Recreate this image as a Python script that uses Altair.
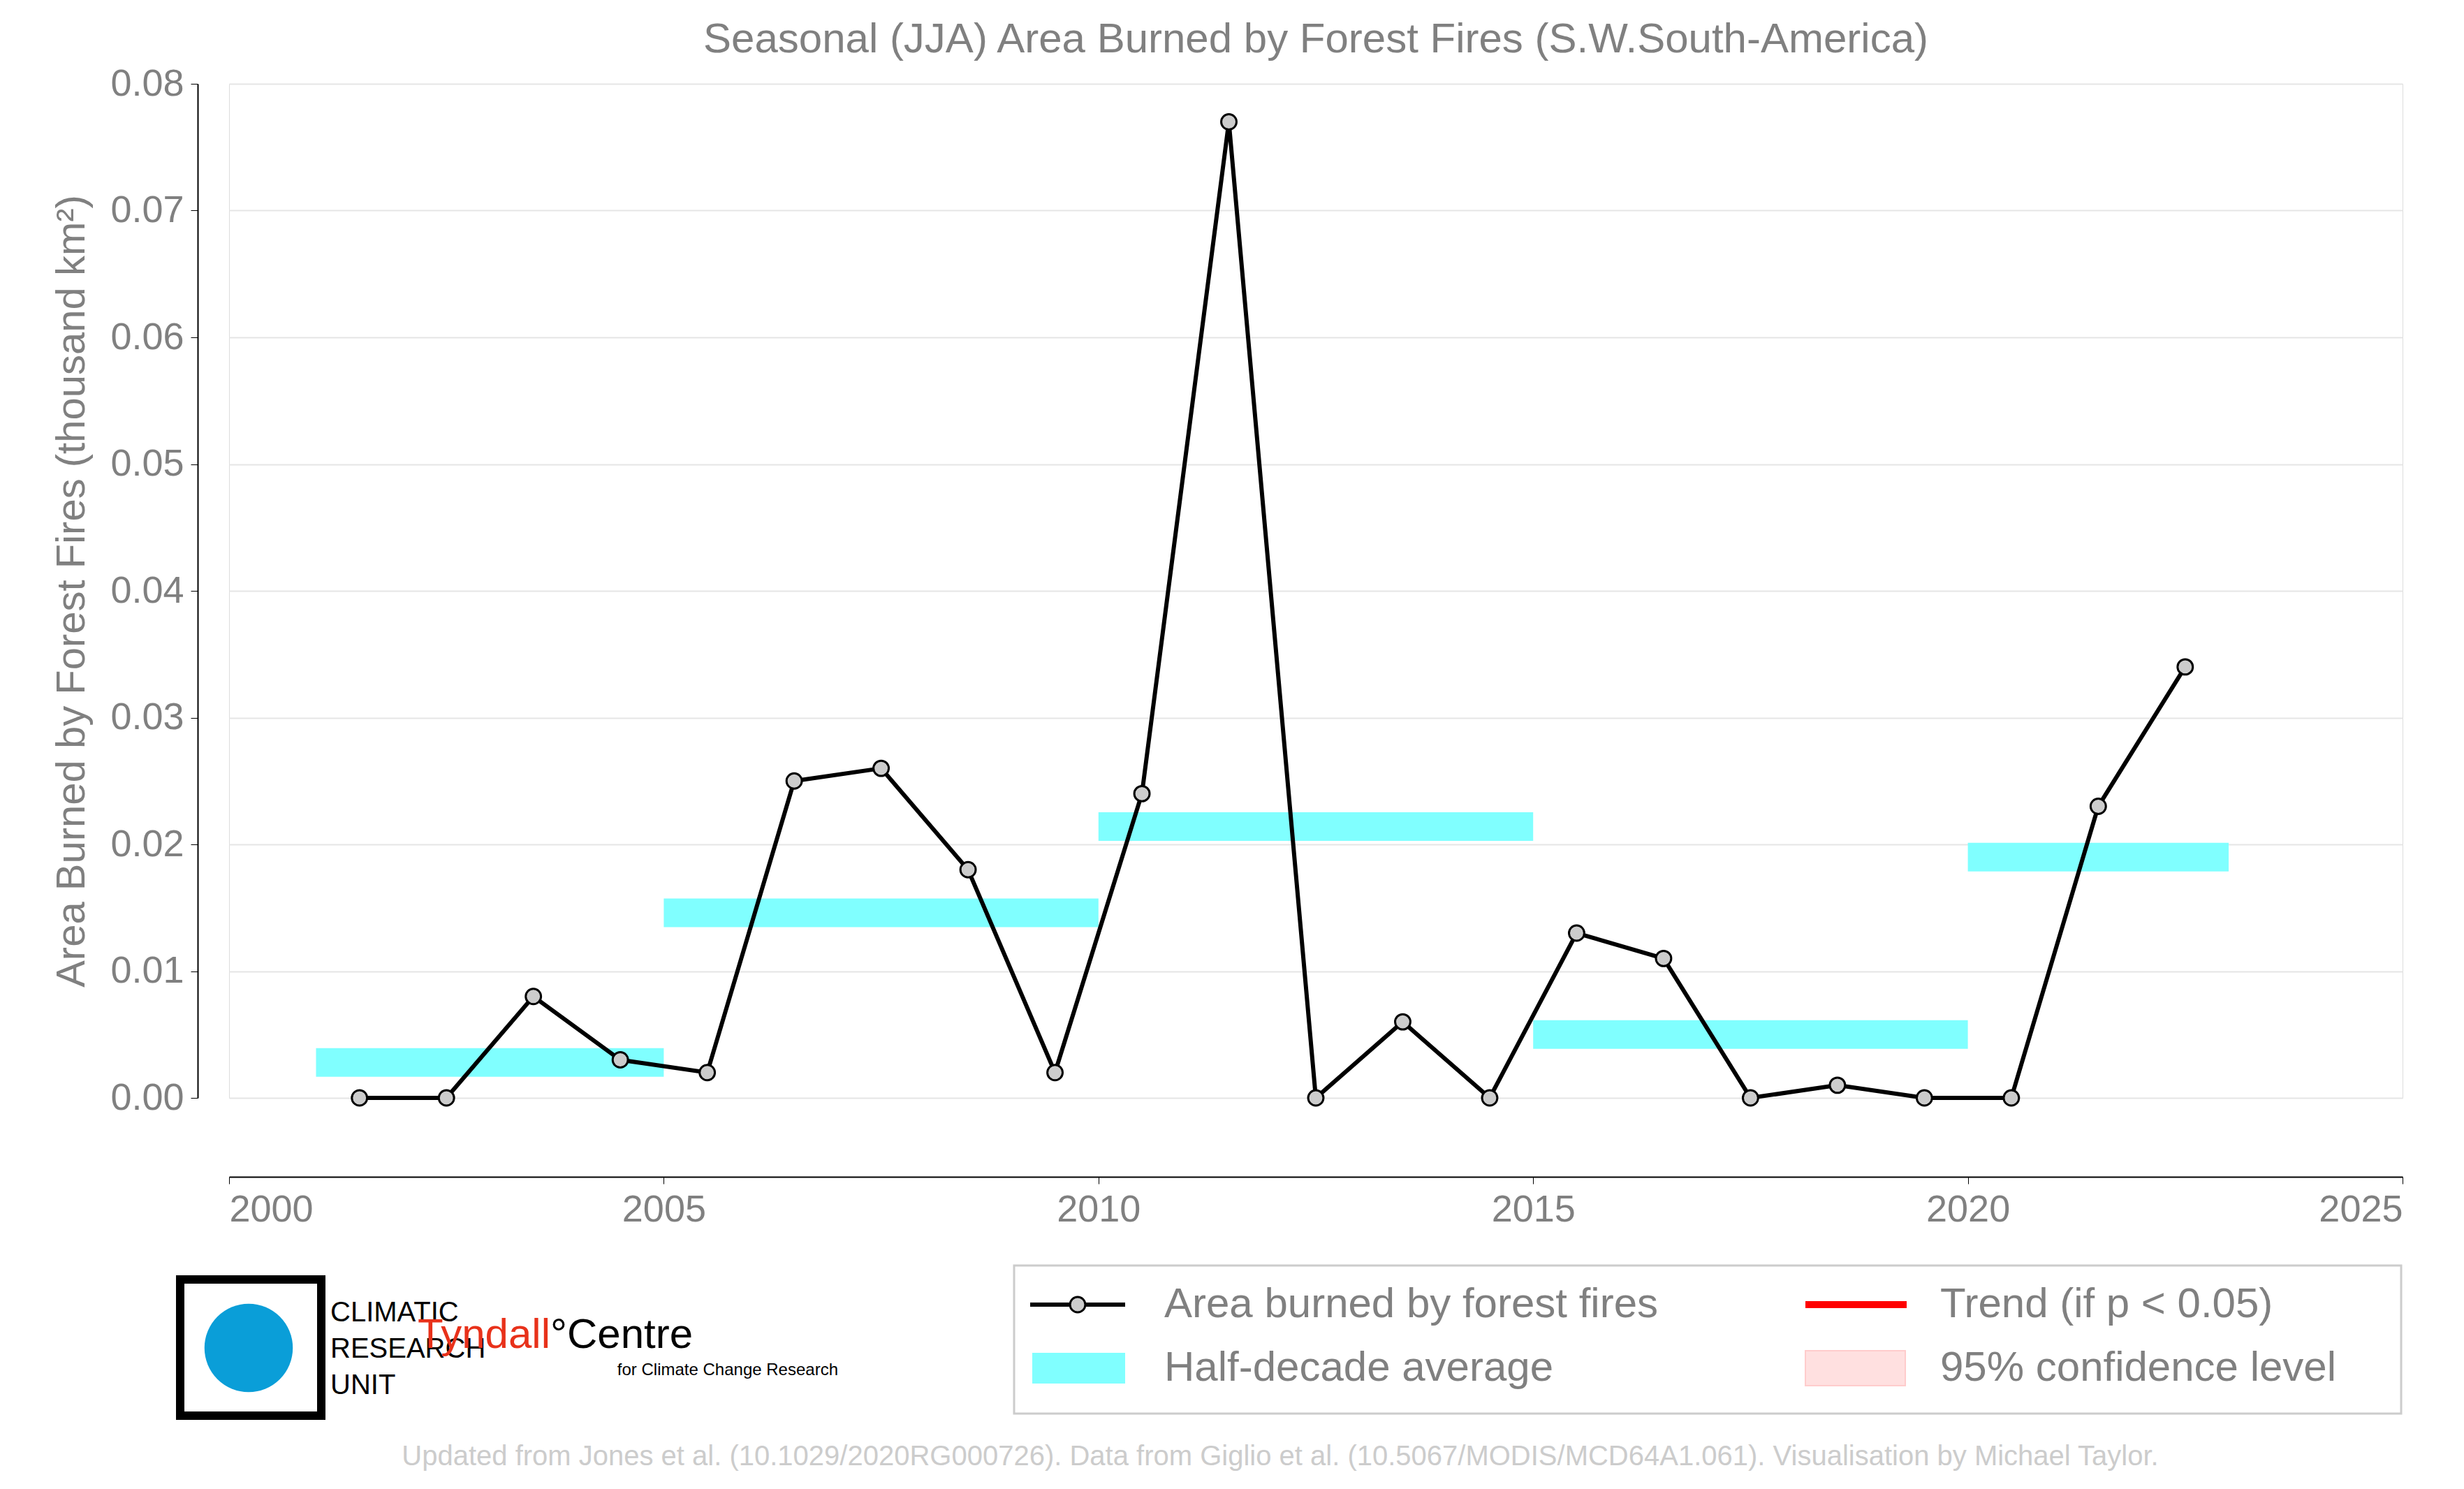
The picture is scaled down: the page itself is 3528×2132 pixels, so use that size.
import altair as alt
import pandas as pd

years = [2001.5, 2002.5, 2003.5, 2004.5, 2005.5, 2006.5, 2007.5, 2008.5, 2009.5, 2010.5, 2011.5,
         2012.5, 2013.5, 2014.5, 2015.5, 2016.5, 2017.5, 2018.5, 2019.5, 2020.5, 2021.5, 2022.5]
burned = [0.0, 0.0, 0.008, 0.003, 0.002, 0.025, 0.026, 0.018, 0.002, 0.024, 0.077,
          0.0, 0.006, 0.0, 0.013, 0.011, 0.0, 0.001, 0.0, 0.0, 0.023, 0.034]

avg_start = [2001, 2005, 2010, 2015, 2020]
avg_end = [2005, 2010, 2015, 2020, 2023]
avg_value = [0.0028, 0.0146, 0.0214, 0.0050, 0.0190]

W, H = 3112, 1452
FONT = "Liberation Sans"
GREY = "#808080"

series = pd.DataFrame({"year": years, "burned": burned})
avgs = pd.DataFrame({"start": avg_start, "end": avg_end, "value": avg_value})
one = pd.DataFrame({"k": [0]})

xs = alt.Scale(domain=[2000, 2025], nice=False)
ys = alt.Scale(domain=[0, 0.08], nice=False)

bars = alt.Chart(avgs).mark_rule(color="#80ffff", strokeWidth=41, strokeCap="butt").encode(
    x=alt.X("start:Q", scale=xs,
            axis=alt.Axis(values=[2000, 2005, 2010, 2015, 2020, 2025], format="d", title=None,
                          offset=113, grid=False, labelFontSize=54, labelColor=GREY,
                          domainColor="black", domainWidth=2, tickColor="black", tickSize=10,
                          labelPadding=10, labelFont=FONT)),
    x2="end:Q",
    y=alt.Y("value:Q", scale=ys,
            axis=alt.Axis(values=[i / 100 for i in range(9)], format=".2f",
                          title="Area Burned by Forest Fires (thousand km²)",
                          titleFontSize=58, titleColor=GREY, titleFont=FONT, titleFontWeight="normal",
                          titlePadding=25, offset=45, grid=True, gridColor="#e5e5e5", gridWidth=2,
                          labelFontSize=54, labelColor=GREY, labelFont=FONT, domainColor="black",
                          domainWidth=2, tickColor="black", tickSize=10, labelPadding=10)),
)

line = alt.Chart(series).mark_line(color="black", strokeWidth=6).encode(
    x=alt.X("year:Q", scale=xs), y=alt.Y("burned:Q", scale=ys))
pts = alt.Chart(series).mark_point(filled=True, fill="#cccccc", stroke="black", strokeWidth=3,
                                   size=480, opacity=1).encode(
    x=alt.X("year:Q", scale=xs), y=alt.Y("burned:Q", scale=ys))


def txt(s, x, y, size, color=GREY, align="left", baseline="middle", weight="normal"):
    return alt.Chart(one).mark_text(text=s, fontSize=size, color=color, align=align,
                                    baseline=baseline, font=FONT, fontWeight=weight).encode(
        x=alt.value(x), y=alt.value(y))


def box(x, x2, y, y2, fill, stroke=None, sw=0, op=1):
    kw = dict(fill=fill, opacity=op)
    if stroke:
        kw.update(stroke=stroke, strokeWidth=sw)
    return alt.Chart(one).mark_rect(**kw).encode(
        x=alt.value(x), x2=alt.value(x2), y=alt.value(y), y2=alt.value(y2))


title = txt("Seasonal (JJA) Area Burned by Forest Fires (S.W.South-America)", W / 2, -63, 60, align="center")
footer = txt("Updated from Jones et al. (10.1029/2020RG000726). Data from Giglio et al. "
             "(10.5067/MODIS/MCD64A1.061). Visualisation by Michael Taylor.",
             1505, 1966, 40, color="#cccccc", align="center")

legend = [
    box(1124, 3110, 1692, 1904, "white", "#cccccc", 3),
    alt.Chart(one).mark_rule(color="black", strokeWidth=6).encode(
        x=alt.value(1147), x2=alt.value(1283), y=alt.value(1748)),
    alt.Chart(one).mark_point(filled=True, fill="#cccccc", stroke="black", strokeWidth=3, size=480,
                              opacity=1).encode(x=alt.value(1215), y=alt.value(1748)),
    txt("Area burned by forest fires", 1339, 1748, 60),
    box(1150, 1283, 1817, 1861, "#80ffff"),
    txt("Half-decade average", 1339, 1839, 60),
    alt.Chart(one).mark_rule(color="red", strokeWidth=10).encode(
        x=alt.value(2257), x2=alt.value(2402), y=alt.value(1748)),
    txt("Trend (if p < 0.05)", 2450, 1748, 60),
    box(2257, 2400, 1814, 1864, "#ffe0e0", "#ffcccc", 2),
    txt("95% confidence level", 2450, 1839, 60),
]

logos = [
    box(-70, 132, 1712, 1907, "white", "black", 12),
    alt.Chart(one).mark_circle(color="#0a9ed8", size=16000, opacity=1).encode(
        x=alt.value(28), y=alt.value(1810)),
    txt("CLIMATIC", 145, 1760, 40, color="black"),
    txt("RESEARCH", 145, 1812, 40, color="black"),
    txt("UNIT", 145, 1864, 40, color="black"),
    txt("Tyndall", 460, 1792, 60, color="#e8311a", align="right"),
    txt("°Centre", 460, 1792, 60, color="black"),
    txt("for Climate Change Research", 872, 1842, 24, color="black", align="right"),
]

chart = alt.layer(bars, line, pts, title, footer, *legend, *logos).properties(
    width=W, height=H,
    autosize=alt.AutoSizeParams(type="none"),
    padding={"left": 320, "top": 112, "right": 80, "bottom": 540},
).configure_view(strokeWidth=0).configure(background="white")

chart.save("out.html", embed_options={"renderer": "svg", "actions": False})
